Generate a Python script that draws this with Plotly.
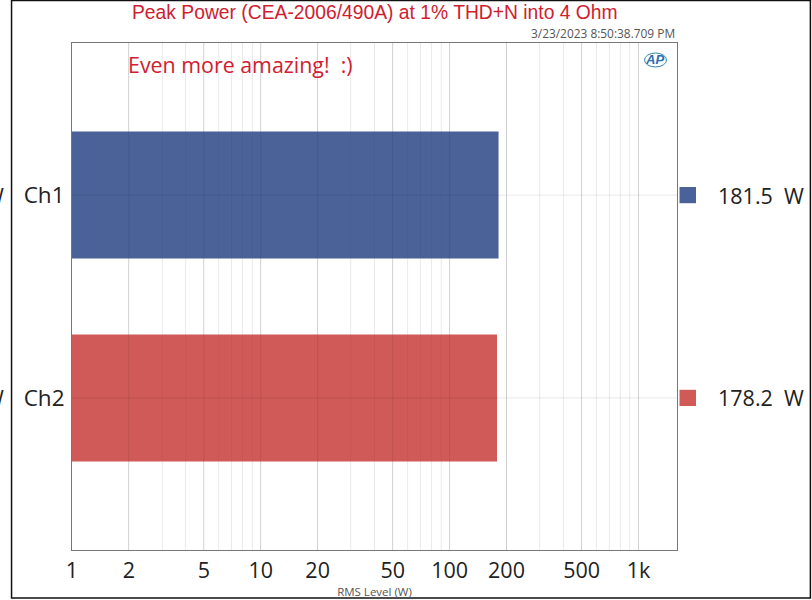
import plotly.graph_objects as go

channels = ["Ch1", "Ch2"]
peak_power = [181.5, 178.2]
bar_colors = ["#4a6298", "#d05a58"]
tick_vals = [1, 2, 5, 10, 20, 50, 100, 200, 500, 1000]
tick_text = ["1", "2", "5", "10", "20", "50", "100", "200", "500", "1k"]
minor_vals = [3, 4, 6, 7, 8, 9, 30, 40, 60, 70, 80, 90, 300, 400, 600, 700, 800, 900]

# figure is taller than the 600px shot, that is what lands the plot box on the right pixels
W, H = 812, 618
L, R, T, B = 72, 677.5, 43, 550.5


# pixel position on the page -> paper coordinates
def px(x):
    return (x - L) / (R - L)


def py(y):
    return (B - y) / (B - T)


fig = go.Figure()
fig.add_trace(go.Bar(
    y=channels, x=peak_power, orientation="h", width=0.626,
    marker=dict(color=bar_colors, line_width=0), showlegend=False,
))

shapes = []
# faint copy of the grid on top, the reference shows it through the bars
for v in tick_vals[1:]:
    shapes.append(dict(type="line", xref="x", yref="paper", x0=v, x1=v, y0=0, y1=1, layer="above",
                       line=dict(color="rgba(0,0,0,0.09)", width=1)))
for v in minor_vals:
    shapes.append(dict(type="line", xref="x", yref="paper", x0=v, x1=v, y0=0, y1=1, layer="above",
                       line=dict(color="rgba(0,0,0,0.035)", width=1)))

annotations = []
for i, ch in enumerate(channels):
    shapes.append(dict(type="line", xref="paper", yref="y", x0=0, x1=1, y0=i, y1=i, layer="above",
                       line=dict(color="rgba(0,0,0,0.09)", width=1)))
    # legend square + value on the right
    shapes.append(dict(type="rect", xref="paper", yref="y", x0=px(680), x1=px(696.5),
                       y0=i - 0.04, y1=i + 0.04, fillcolor=bar_colors[i], line_width=0))
    annotations.append(dict(xref="paper", yref="y", x=px(716.5), y=i, xanchor="left", yanchor="middle",
                            showarrow=False, text=f"{peak_power[i]}  W",
                            font=dict(family="Open Sans", size=21.5, color="#222222")))
    # cropped off W at the left edge of the screenshot
    annotations.append(dict(xref="paper", yref="y", x=px(6), y=i, xanchor="right", yanchor="middle",
                            showarrow=False, text="W",
                            font=dict(family="Open Sans", size=21.5, color="#222222")))

# black screenshot frame
shapes.append(dict(type="rect", xref="paper", yref="paper", x0=px(11.5), x1=px(811), y0=py(598.5), y1=py(0.5),
                   line=dict(color="#111111", width=1.5)))
# AP logo ring
shapes.append(dict(type="circle", xref="paper", yref="paper", x0=px(645), x1=px(667), y0=py(67), y1=py(53),
                   line=dict(color="#2a86a8", width=1)))

annotations += [
    dict(xref="paper", yref="paper", x=px(375), y=py(12), xanchor="center", yanchor="middle", showarrow=False,
         text="Peak Power (CEA-2006/490A) at 1% THD+N into 4 Ohm",
         font=dict(family="Liberation Sans", size=19.3, color="#cf2030")),
    dict(xref="paper", yref="paper", x=px(678), y=py(32.5), xanchor="right", yanchor="middle", showarrow=False,
         text="3/23/2023 8:50:38.709 PM",
         font=dict(family="Open Sans", size=11.9, color="#555555")),
    dict(xref="paper", yref="paper", x=px(126), y=py(65), xanchor="left", yanchor="middle", showarrow=False,
         text="Even more amazing!  :)",
         font=dict(family="Open Sans", size=21.4, color="#d02030")),
    dict(xref="paper", yref="paper", x=px(655), y=py(60), xanchor="center", yanchor="middle", showarrow=False,
         text="<b><i>AP</i></b>",
         font=dict(family="Liberation Sans", size=13, color="#2a6fb0")),
]

fig.update_layout(
    width=W, height=H,
    margin=dict(l=L, r=W - R, t=T, b=H - B),
    paper_bgcolor="white", plot_bgcolor="white",
    shapes=shapes, annotations=annotations,
    xaxis=dict(
        type="log", range=[0, 3.204], tickvals=tick_vals, ticktext=tick_text,
        showgrid=True, gridcolor="#e6e6e6", gridwidth=1,
        minor=dict(tickvals=minor_vals, showgrid=True, gridcolor="#f2f2f2", gridwidth=1),
        zeroline=False, showline=True, mirror=True, linecolor="#777777", linewidth=1,
        ticks="outside", ticklen=1, tickcolor="rgba(0,0,0,0)",
        tickfont=dict(family="Open Sans", size=21.5, color="#222222"),
        title=dict(text="RMS Level (W)", standoff=4, font=dict(family="Open Sans", size=11.5, color="#555555")),
    ),
    yaxis=dict(
        type="category", categoryorder="array", categoryarray=channels, range=[1.75, -0.75],
        showgrid=False, zeroline=False, showline=True, mirror=True, linecolor="#777777", linewidth=1,
        ticks="outside", ticklen=2, tickcolor="rgba(0,0,0,0)",
        tickfont=dict(family="Open Sans", size=22.5, color="#222222"),
    ),
)

# the page's default body margin would push everything 8px in
fig.write_html("out.html", config=dict(displayModeBar=False, responsive=False),
               post_script="document.body.style.margin='0';")
